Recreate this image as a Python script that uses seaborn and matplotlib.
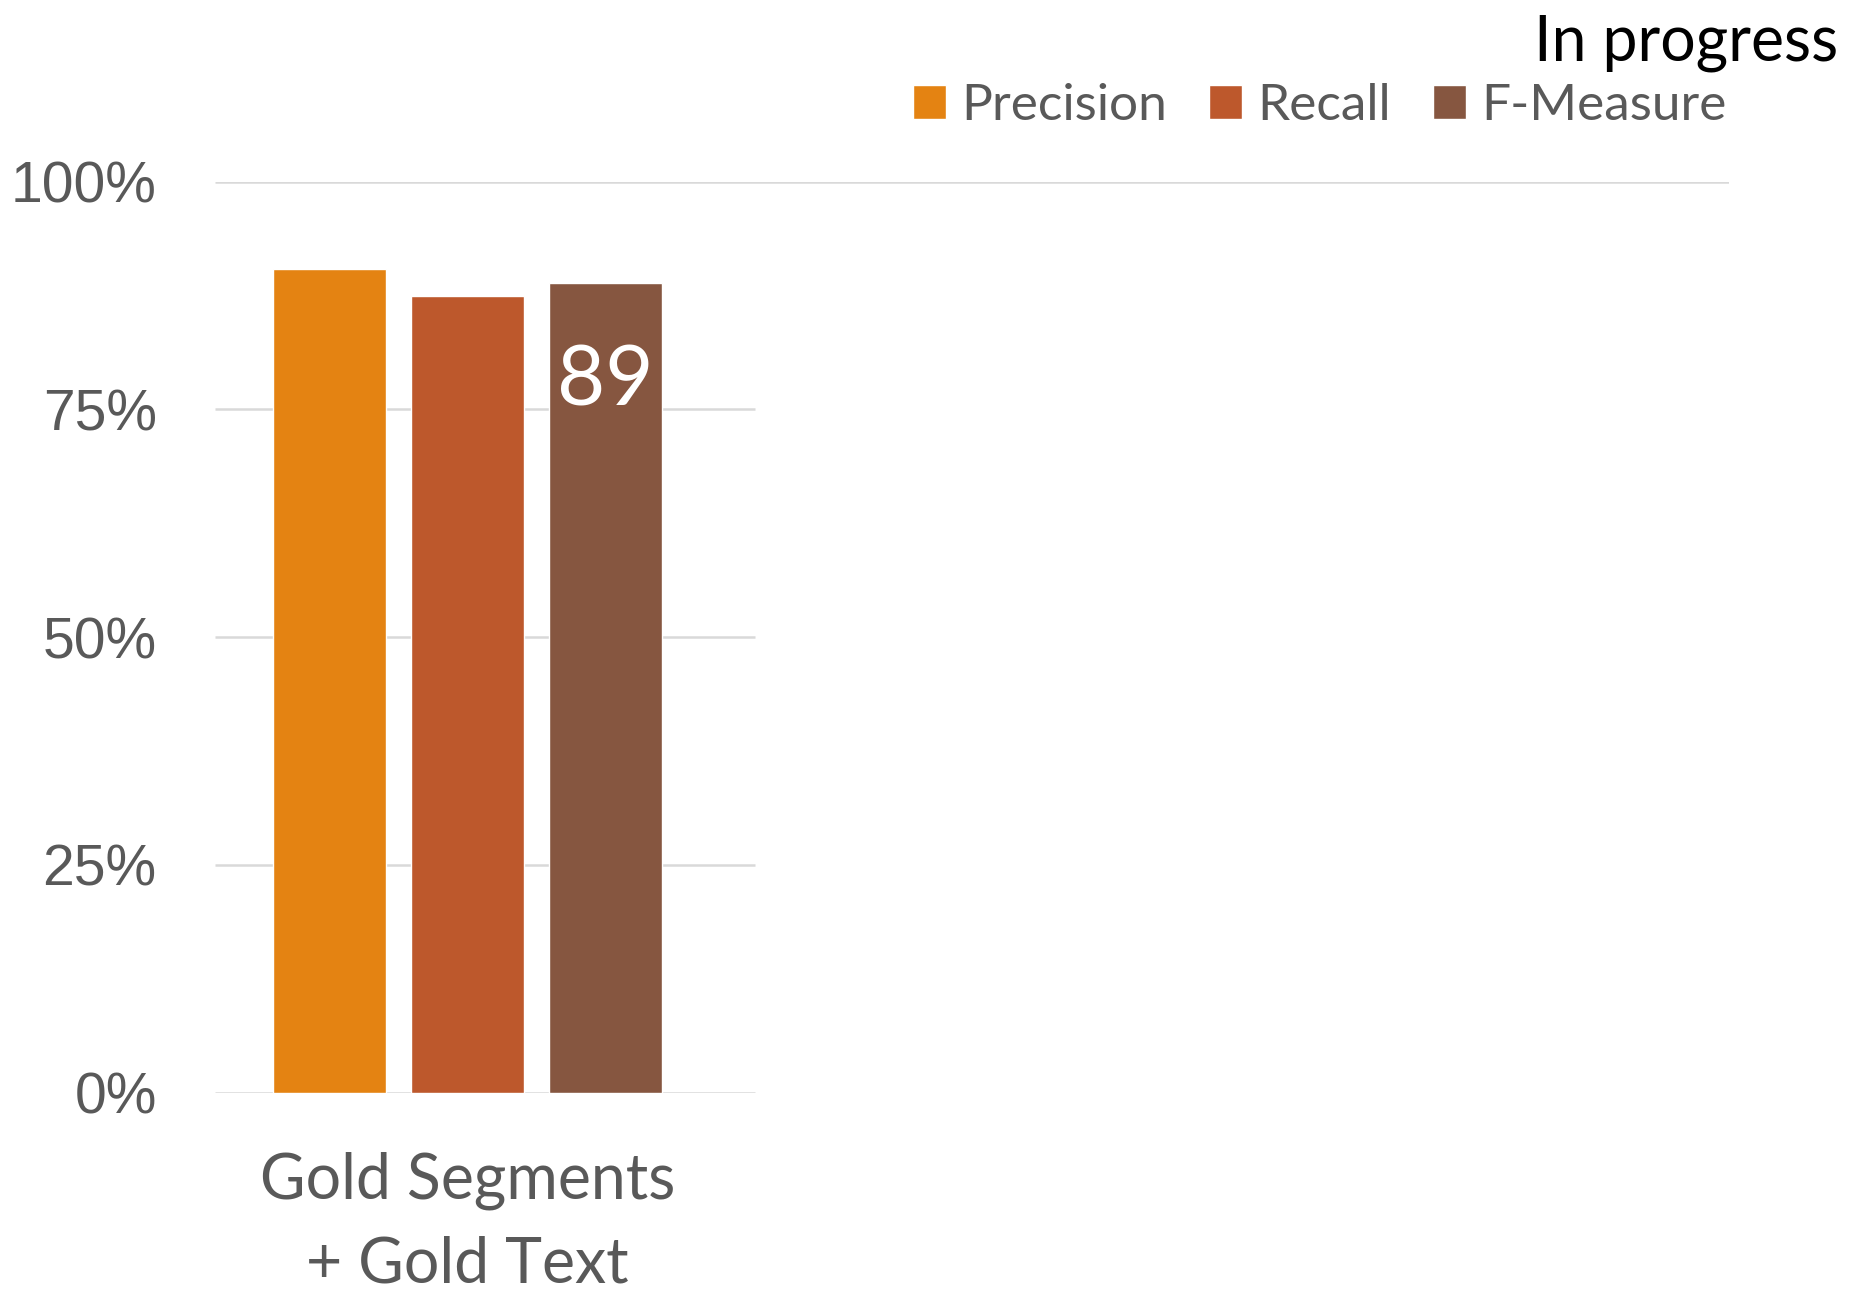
import matplotlib
matplotlib.use("Agg")
import matplotlib.pyplot as plt
import seaborn as sns
import pandas as pd

# ---- data ----
categories = ["Gold Segments\n+ Gold Text"]
metrics = ["Precision", "Recall", "F-Measure"]
values = [0.904, 0.874, 0.889]
ytick_values = [0, 0.25, 0.5, 0.75, 1.0]
ytick_labels = ["0%", "25%", "50%", "75%", "100%"]
labelled_metric = "F-Measure"
status_text = "In progress"
colors = ["#E48312", "#BD582C", "#865640"]
n_slots = 3  # category slots in the original chart (others hidden)

df = pd.DataFrame({
    "category": [categories[0]] * len(metrics),
    "metric": metrics,
    "value": values,
})

sns.set_theme(style="white")
plt.rcParams["font.family"] = ["Lato", "DejaVu Sans"]

W, H = 1850, 1290
fig = plt.figure(figsize=(W / 100, H / 100), dpi=100)
ax = fig.add_axes([215 / W, 1 - 1092.7 / H, (1729 - 215) / W, (1092.7 - 181.7) / H])

sns.barplot(data=df, x="category", y="value", hue="metric", hue_order=metrics,
            palette=colors, width=0.82, gap=0.18, saturation=1, ax=ax,
            legend=True, zorder=3)

ax.set_xlim(-0.5, n_slots - 0.5)
ax.set_ylim(0, 1.0)
for s in ax.spines.values():
    s.set_visible(False)

grid_c = "#D9D9D9"
ax.hlines(ytick_values[:-1], -0.5, 0.571, color=grid_c, lw=1.8, zorder=1)
ax.hlines(ytick_values[-1], -0.5, n_slots - 0.5, color=grid_c, lw=1.8, zorder=1)

ax.set_yticks(ytick_values)
ax.set_yticklabels(ytick_labels, fontfamily="Liberation Sans", fontsize=41, color="#595959")
ax.tick_params(axis="y", length=0, pad=42)
ax.tick_params(axis="x", length=0, pad=42)
for t in ax.get_xticklabels():
    t.set_fontsize(45)
    t.set_color("#595959")
    t.set_linespacing(1.55)
ax.set_xlabel("")
ax.set_ylabel("")

# value label on F-Measure bar
idx = metrics.index(labelled_metric)
bar = ax.patches[idx]
cx = bar.get_x() + bar.get_width() / 2
ax.annotate(f"{values[idx]*100:.0f}", (cx, bar.get_height()), xytext=(0, -72),
            textcoords="offset points", ha="center", va="center",
            fontsize=60, color="white", zorder=5)

# legend
handles, labels = ax.get_legend_handles_labels()
ax.legend(handles, labels, loc="center right", bbox_to_anchor=(1727 / W, 1 - 106 / H),
          bbox_transform=fig.transFigure, ncol=3, frameon=False, fontsize=37,
          handlelength=0.64, handleheight=0.64, handletextpad=0.3, columnspacing=0.82,
          labelcolor="#595959", borderaxespad=0, borderpad=0)

fig.text(1838 / W, 1 - 60 / H, status_text, ha="right", va="baseline",
         fontsize=45, color="black")

fig.savefig("out.png", dpi=100, facecolor="white")
